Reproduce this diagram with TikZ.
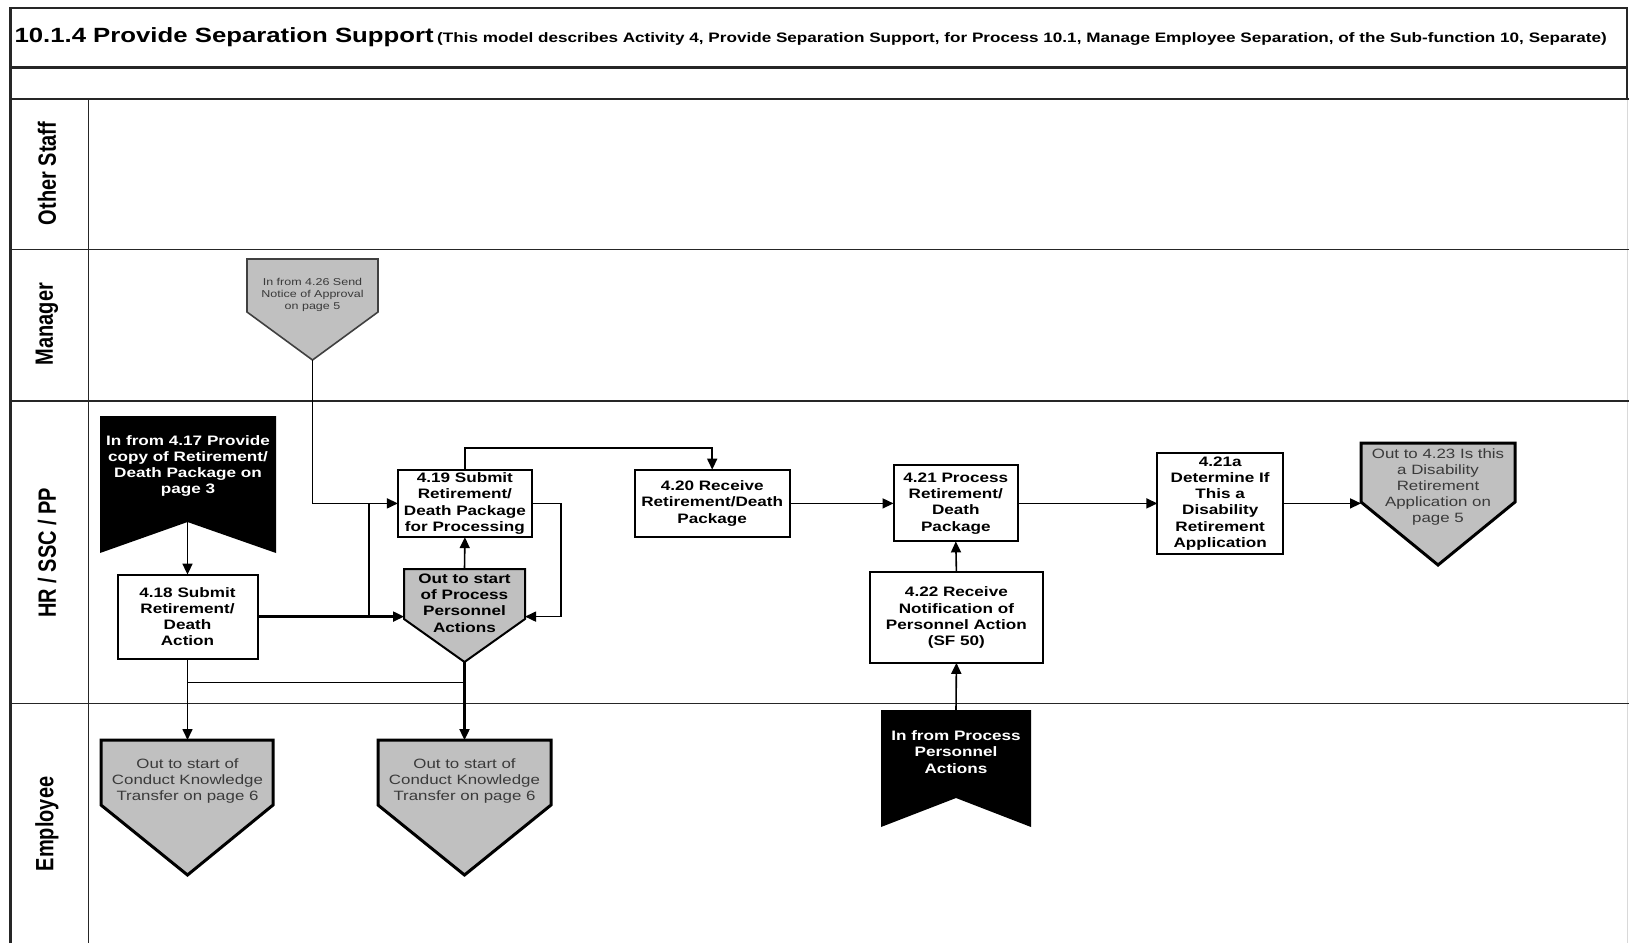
\documentclass[tikz,border=0pt]{standalone}
\usepackage{fontspec}
\usepackage{graphicx}
\usetikzlibrary{arrows.meta}
\newfontfamily\dfont{Liberation Sans}[FakeStretch=1.25]
\newfontfamily\lanefont{Liberation Sans}
\definecolor{shapegray}{HTML}{C0C0C0}
\definecolor{textgray}{HTML}{3A3A3A}

\begin{document}
\begin{tikzpicture}[x=1pt,y=-1pt,
  every node/.style={inner sep=0pt,outer sep=0pt},
  frame/.style={line width=2.2pt,draw=black!85},
  lane/.style={line width=1.6pt,draw=black!85},
  task/.style={draw=black,line width=2pt,fill=white,align=center,
    font=\dfont\bfseries\fontsize{13.7}{16.3}\selectfont},
  grayref/.style={fill=shapegray,draw=black,line width=2pt},
  grayrefthick/.style={fill=shapegray,draw=black,line width=3pt},
  grayrefthin/.style={fill=shapegray,draw=black!75,line width=1.6pt},
  blackref/.style={fill=black},
  reflabel/.style={align=center,text=textgray,
    font=\dfont\fontsize{13.5}{16}\selectfont},
  smalllabel/.style={align=center,text=textgray,
    font=\dfont\fontsize{10}{12.2}\selectfont},
  boldlabel/.style={align=center,text=black,
    font=\dfont\bfseries\fontsize{13.7}{16.3}\selectfont},
  whitelabel/.style={align=center,text=white,
    font=\dfont\bfseries\fontsize{13.7}{16.3}\selectfont},
  flow/.style={draw=black,line width=1.6pt,-{Triangle[length=11pt,width=10pt]}},
  link/.style={draw=black,line width=1.6pt},
  lanelabel/.style={rotate=90,font=\lanefont\bfseries\fontsize{20}{20}\selectfont}
]
\useasboundingbox (0,0) rectangle (1629,943);

% ---------- frame, header rows and swimlanes ----------
\draw[frame] (10.4,943) -- (10.4,8.3) -- (1627,8.3) -- (1627,98.7);
\draw[black!15,line width=1pt] (1627.5,98.7) -- (1627.5,943);
\draw[frame] (10.4,67.5) -- (1627,67.5);
\draw[frame] (10.4,98.7) -- (1629,98.7);
\draw[lane] (10.4,249.3) -- (1629,249.3);
\draw[lane] (10.4,401) -- (1629,401);
\draw[lane] (10.4,703.3) -- (1629,703.3);
\draw[lane] (88.3,98.7) -- (88.3,943);

\node[anchor=base west] (title) at (14.5,42.6)
  {\dfont\bfseries{\fontsize{20.6}{24}\selectfont 10.1.4 Provide Separation Support}
   {\fontsize{13.7}{15}\selectfont (This model describes Activity 4, Provide Separation Support, for Process 10.1, Manage Employee Separation, of the Sub-function 10, Separate)}};

\node[lanelabel] (lane1) at (47,173.5) {\scalebox{1}[1.25]{Other Staff}};
\node[lanelabel] (lane2) at (47,324) {\scalebox{1}[1.25]{Manager}};
\node[lanelabel] (lane3) at (47,552.7) {\scalebox{1}[1.25]{HR / SSC / PP}};
\node[lanelabel] (lane4) at (47,823.9) {\scalebox{1}[1.25]{Employee}};

% ---------- off-page connectors ----------
% in from 4.26 (manager lane)
\draw[grayrefthin] (247,259) -- (378,259) -- (378,312) -- (312.5,360) -- (247,312) -- cycle;
\node[smalllabel] (p426) at (312.5,295) {In from 4.26 Send\\Notice of Approval\\on page 5};
\coordinate (p426tip) at (312.5,360);

% in from 4.17 (black)
\fill[blackref] (100,416) -- (276,416) -- (276,553) -- (187.5,522) -- (100,553) -- cycle;
\node[whitelabel] (b417) at (188,466) {In from 4.17 Provide\\copy of Retirement/\\Death Package on\\page 3};
\coordinate (b417notch) at (187.5,522);

% out to process personnel actions
\draw[grayref] (404,569) -- (525,569) -- (525,619) -- (464.5,662) -- (404,619) -- cycle;
\node[minimum width=121,minimum height=50] (outppa) at (464.5,594) {};
\node[boldlabel] (outppa-text) at (464.5,603) {Out to start\\of Process\\Personnel\\Actions};
\coordinate (outppatip) at (464.5,662);

% out to 4.23
\draw[grayrefthick] (1361,443) -- (1515,443) -- (1515,502) -- (1438,565) -- (1361,502) -- cycle;
\node[minimum width=154,minimum height=59] (out423) at (1438,472.5) {};
\node[reflabel] (out423-text) at (1438,487) {Out to 4.23 Is this\\a Disability\\Retirement\\Application on\\page 5};

% in from process personnel actions (black)
\fill[blackref] (881,710) -- (1031,710) -- (1031,827) -- (956,798) -- (881,827) -- cycle;
\node[minimum width=150,minimum height=88] (inppa) at (956,754) {};
\node[whitelabel] (inppa-text) at (956,752) {In from Process\\Personnel\\Actions};

% out to conduct knowledge transfer (two)
\draw[grayrefthick] (101,740) -- (273,740) -- (273,805) -- (187.5,875) -- (101,805) -- cycle;
\node[minimum width=172,minimum height=65] (ckt1) at (187.5,772.5) {};
\node[reflabel] (ckt1-text) at (187.5,781) {Out to start of\\Conduct Knowledge\\Transfer on page 6};

\draw[grayrefthick] (378,740) -- (551,740) -- (551,805) -- (464.5,875) -- (378,805) -- cycle;
\node[minimum width=173,minimum height=65] (ckt2) at (464.5,772.5) {};
\node[reflabel] (ckt2-text) at (464.5,781) {Out to start of\\Conduct Knowledge\\Transfer on page 6};

% ---------- activities ----------
\node[task,minimum width=140,minimum height=84] (t418) at (187.5,616.6)
  {4.18 Submit\\Retirement/\\Death\\Action};
\node[task,minimum width=134,minimum height=67.5] (t419) at (464.9,503.4)
  {4.19 Submit\\Retirement/\\Death Package\\for Processing};
\node[task,minimum width=155,minimum height=67.5] (t420) at (712.2,503.4)
  {4.20 Receive\\Retirement/Death\\Package};
\node[task,minimum width=124.6,minimum height=76] (t421) at (955.8,503.4)
  {4.21 Process\\Retirement/\\Death\\Package};
\node[task,minimum width=125.7,minimum height=100.7] (t421a) at (1220.2,503.4)
  {4.21a\\Determine If\\This a\\Disability\\Retirement\\Application};
\node[task,minimum width=173.5,minimum height=90.4] (t422) at (956.4,617.6)
  {4.22 Receive\\Notification of\\Personnel Action\\(SF 50)};

% ---------- connectors ----------
\draw[flow] (p426tip) |- (t419.west);
\draw[flow] (b417notch) -- (t418.north);
\draw[flow,line width=2.3pt] (t418.east) -- (t418.east -| outppa.west);
\draw[link] (t418.east -| 368.8,0) -- (368.8,503.4);
\draw[flow] (outppa.north) -- (t419.south);
\draw[flow] (t419.east) -- (561,503.4) -- (561,616.6) -- (t418.east -| outppa.east);
\draw[flow] (t419.north) -- (464.9,447.8) -| (t420.north);
\draw[flow] (t420.east) -- (t421.west);
\draw[flow] (t421.east) -- (t421a.west);
\draw[flow] (t421a.east) -- (t421a.east -| out423.west);
\draw[flow] (t422.north) -- (t421.south);
\draw[flow] (inppa.north) -- (t422.south);
\draw[flow] (t418.south) -- (ckt1.north);
\draw[flow,line width=2.3pt] (outppatip) -- (ckt2.north);
\draw[link] (187.5,682.6) -- (464.5,682.6);
\end{tikzpicture}
\end{document}
